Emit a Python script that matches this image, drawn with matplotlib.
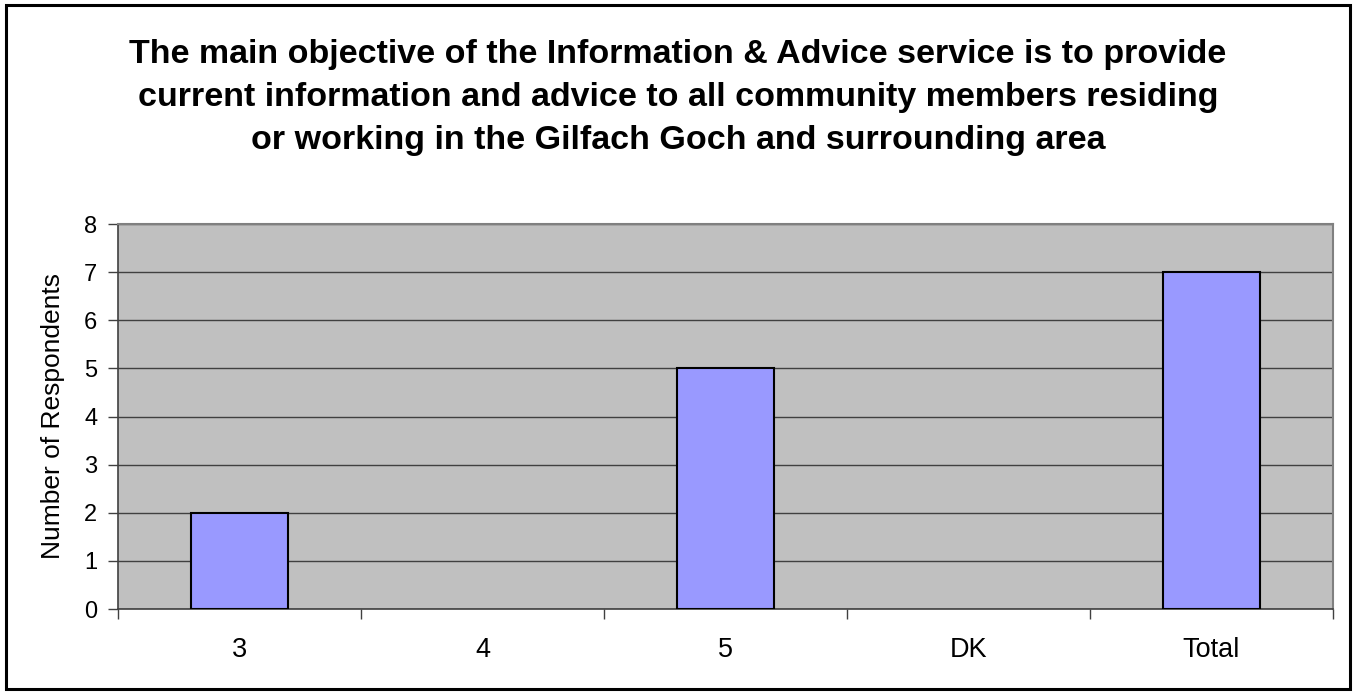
import matplotlib
matplotlib.use("Agg")
import matplotlib.pyplot as plt
from matplotlib.patches import Rectangle
import numpy as np

plt.rcParams['font.family'] = ['Liberation Sans', 'DejaVu Sans']

categories = ["3", "4", "5", "DK", "Total"]
respondents = [2, 0, 5, 0, 7]
y_ticks = [0, 1, 2, 3, 4, 5, 6, 7, 8]
title = ("The main objective of the Information & Advice service is to provide\n"
         "current information and advice to all community members residing\n"
         "or working in the Gilfach Goch and surrounding area")
y_label = "Number of Respondents"

fig = plt.figure(figsize=(13.56, 6.92), dpi=100)
ax = fig.add_axes([0.0870, 0.1199, 0.8960, 0.5564])

x = np.arange(len(categories))
# empty categories get no outline so nothing sits on the axis line
edge_widths = [1.5 if v > 0 else 0 for v in respondents]
ax.bar(x, respondents, width=0.4, color="#9999FF", edgecolor="black",
       linewidth=edge_widths, zorder=3)

ax.set_facecolor("#C0C0C0")
ax.set_xlim(-0.5, len(categories) - 0.5)
ax.set_ylim(0, 8)
ax.set_yticks(y_ticks)
ax.yaxis.grid(True, color="#404040", linewidth=1.0, zorder=1)
ax.set_axisbelow(True)

ax.set_xticks(x)
ax.set_xticklabels(categories, fontsize=19.5)
ax.set_xticks(np.arange(len(categories) + 1) - 0.5, minor=True)
ax.tick_params(axis="x", which="major", length=0, pad=20)
ax.tick_params(axis="x", which="minor", length=7, width=1, color="#404040")
ax.tick_params(axis="y", length=7, width=1, color="#404040", labelsize=17, pad=8)

for side in ("left", "bottom"):
    ax.spines[side].set_color("#404040")
    ax.spines[side].set_linewidth(1.2)
for side in ("top", "right"):
    ax.spines[side].set_color("#808080")
    ax.spines[side].set_linewidth(1.5)

fig.text(53 / 1356, 1 - 416 / 692, y_label, rotation=90, ha="center",
         va="center", fontsize=19)

fig.text(0.5, 0.859, title, ha="center", va="center", fontsize=24.5,
         fontweight="bold", linespacing=1.5)

# frame around the whole chart
fig.patches.append(Rectangle((6 / 1356, 3 / 692), 1344 / 1356, 684 / 692,
                             transform=fig.transFigure, fill=False,
                             edgecolor="black", linewidth=2.2))

fig.savefig("out.png", dpi=100)
